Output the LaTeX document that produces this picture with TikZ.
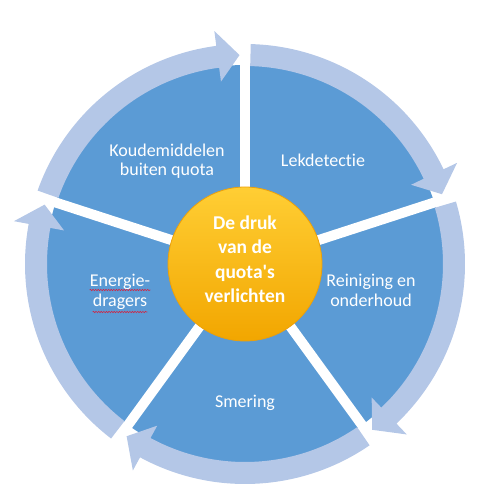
\documentclass[tikz,border=0pt]{standalone}
\usepackage{fontspec}
\newfontfamily\calib{Carlito}[Ligatures=NoCommon]
\usetikzlibrary{decorations.pathmorphing}

\definecolor{sectorblue}{RGB}{91,155,213}
\definecolor{bandblue}{RGB}{180,199,231}
\definecolor{hubtop}{RGB}{255,206,52}
\definecolor{hubbottom}{RGB}{242,166,0}
\definecolor{hubedge}{RGB}{236,160,10}
\definecolor{spellred}{RGB}{205,40,70}

\tikzset{
	lbl/.style={text=white, inner sep=0pt, anchor=base, font=\calib\fontsize{18}{20}\selectfont},
	hublbl/.style={lbl, font=\calib\bfseries\fontsize{19.5}{24}\selectfont},
	gap/.style={white, line width=10pt},
	spell/.style={spellred, line width=0.6pt, decorate,
		decoration={snake, amplitude=0.7pt, segment length=2.6pt}},
}

\begin{document}
\begin{tikzpicture}[x=1pt,y=1pt]
	\useasboundingbox (-245,-239) rectangle (241,264);
	
	% blue disc and its five cuts
	\fill[sectorblue] (0,0) circle[radius=199];
	\draw[gap] (0,0) -- (90:202);
	\draw[gap] (0,0) -- (18:202);
	\draw[gap] (0,0) -- (-54:202);
	\draw[gap] (0,0) -- (-126:202);
	\draw[gap] (0,0) -- (162:202);
	
	% curved arrows round the rim
	\fill[bandblue] (88.5:220) arc[start angle=88.5, end angle=25.5, radius=220]
		-- (25.5:235) -- (19.5:209) -- (25.5:184) -- (25.5:198)
		arc[start angle=25.5, end angle=88.5, radius=198] -- cycle;
	\fill[bandblue, rotate=-72] (88.5:220) arc[start angle=88.5, end angle=25.5, radius=220]
		-- (25.5:235) -- (19.5:209) -- (25.5:184) -- (25.5:198)
		arc[start angle=25.5, end angle=88.5, radius=198] -- cycle;
	\fill[bandblue, rotate=-144] (88.5:220) arc[start angle=88.5, end angle=25.5, radius=220]
		-- (25.5:235) -- (19.5:209) -- (25.5:184) -- (25.5:198)
		arc[start angle=25.5, end angle=88.5, radius=198] -- cycle;
	\fill[bandblue, rotate=-216] (88.5:220) arc[start angle=88.5, end angle=25.5, radius=220]
		-- (25.5:235) -- (19.5:209) -- (25.5:184) -- (25.5:198)
		arc[start angle=25.5, end angle=88.5, radius=198] -- cycle;
	\fill[bandblue, rotate=-288] (88.5:220) arc[start angle=88.5, end angle=25.5, radius=220]
		-- (25.5:235) -- (19.5:209) -- (25.5:184) -- (25.5:198)
		arc[start angle=25.5, end angle=88.5, radius=198] -- cycle;
	
	% centre
	\node[circle, minimum size=154pt, inner sep=0pt, draw=hubedge, line width=0.8pt,
		top color=hubtop, bottom color=hubbottom] (hub) at (0,0) {};
	\node[hublbl] (hubA) at (0,34) {De druk};
	\node[hublbl] (hubB) at (0,10) {van de};
	\node[hublbl] (hubC) at (0,-14) {quota's};
	\node[hublbl] (hubD) at (0,-38) {verlichten};
	
	% sector labels
	\node[lbl] (koudeA) at (-78,107) {Koudemiddelen};
	\node[lbl] (koudeB) at (-78,88) {buiten quota};
	\node[lbl] (lek) at (78,97) {Lekdetectie};
	\node[lbl] (reinA) at (126,-23) {Reiniging en};
	\node[lbl] (reinB) at (126,-42) {onderhoud};
	\node[lbl] (smering) at (0,-143) {Smering};
	\node[lbl] (enerA) at (-125,-23) {Energie-};
	\node[lbl] (enerB) at (-125,-42) {dragers};
	
	\draw[spell] ([yshift=-3pt]enerA.base west) -- ([yshift=-3pt]enerA.base east);
	\draw[spell] ([yshift=-6pt]enerB.base west) -- ([yshift=-6pt]enerB.base east);
\end{tikzpicture}
\end{document}
